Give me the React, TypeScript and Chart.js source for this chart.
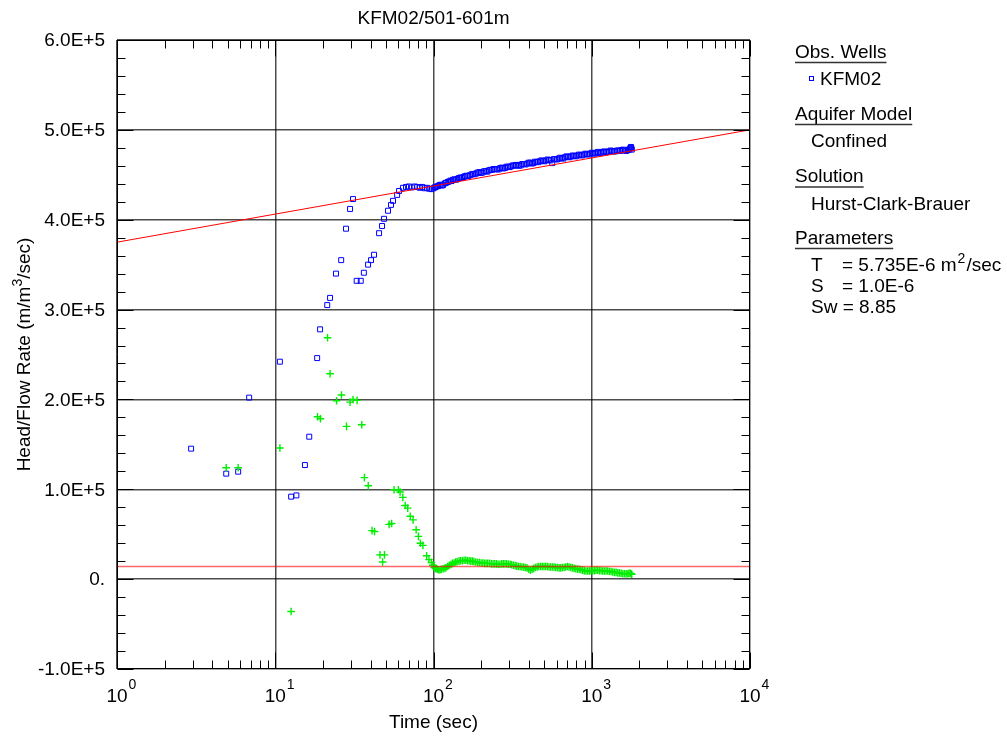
import React, { useEffect, useRef } from "react";
import { Chart, registerables } from "chart.js";

Chart.register(...registerables);

const FONT = '"Liberation Sans", Arial, Helvetica, sans-serif';

const TITLE = "KFM02/501-601m";
const X_TITLE = "Time (sec)";
const Y_TITLE_MAIN = "Head/Flow Rate (m/m";
const Y_TITLE_SUP = "3";
const Y_TITLE_TAIL = "/sec)";

const X_MIN = 1;
const X_MAX = 10000;
const Y_MIN = -100000;
const Y_MAX = 600000;

const xDecadeValues = [1, 10, 100, 1000, 10000];
const xDecadeExponents = ["0", "1", "2", "3", "4"];
const xMinorMultipliers = [2, 3, 4, 5, 6, 7, 8, 9];
const yTickValues = [600000, 500000, 400000, 300000, 200000, 100000, 0, -100000];
const yTickLabels = ["6.0E+5", "5.0E+5", "4.0E+5", "3.0E+5", "2.0E+5", "1.0E+5", "0.", "-1.0E+5"];
const yMinorStep = 20000;

// Observed: KFM02 (head / flow rate)
const kfmTimes = [
  2.94, 4.9, 5.83, 6.84, 10.7, 12.6, 13.6, 15.4, 16.4, 18.4,
  19.2, 21.3, 22.2, 24.2, 26.1, 28.0, 29.7, 31.0, 32.7, 34.7,
  36.3, 38.6, 40.3, 42.1, 45.3, 47.3, 48.7, 51.6, 53.9, 55.5,
  58.9, 60.6, 64.1, 67, 70, 73, 76, 79, 82, 85,
  88, 91, 94, 97,
  100, 102, 103, 105, 107, 109, 111, 113, 115, 118,
  120, 123, 125, 128, 130, 133, 136, 139, 142, 145,
  148, 151, 155, 158, 162, 166, 170, 174, 178, 182,
  186, 190, 195, 199, 204, 209, 214, 219, 224, 229,
  235, 240, 246, 252, 258, 264, 270, 276, 283, 289,
  296, 303, 310, 317, 325, 332, 340, 348, 356, 364,
  373, 382, 391, 400, 409, 418, 428, 438, 448, 458,
  469, 480, 491, 502, 514, 526, 538, 550, 563, 576,
  589, 603, 617, 631, 646, 661, 676, 692, 708, 724,
  741, 758, 776, 794, 812, 831, 850, 870, 890, 911,
  932, 954, 976, 999, 1022, 1046, 1070, 1095, 1120, 1146,
  1172, 1199, 1227, 1256, 1285, 1315, 1345, 1376, 1408, 1441,
  1474, 1508, 1543, 1579, 1615, 1652, 1690, 1720, 1740, 1760,
  1770, 1780, 1790,
];
const kfmValues = [
  145200, 117400, 119600, 202000, 242000, 91800, 93200, 127000, 158500, 246000,
  278000, 305000, 313000, 340000, 355000, 390000, 412000, 423000, 332000, 332000,
  341000, 350000, 355000, 361000, 385000, 393000, 401000, 410000, 416500, 421000,
  427600, 432000, 435500, 436500, 437000, 436000, 437000, 436500, 435500, 436500,
  435000, 435500, 434500, 434000,
  435000, 436000, 436500, 437000, 437500, 438500, 439000, 438000, 438500, 440500,
  441000, 442000, 442500, 443500, 443000, 444500, 445000, 444500, 445500, 446500,
  447000, 446500, 447500, 448500, 449000, 448500, 449500, 450500, 451000, 450500,
  451500, 452500, 453000, 452000, 452500, 454000, 454000, 453500, 455000, 455500,
  455500, 456500, 456500, 456000, 456000, 457500, 458000, 457000, 457500, 459000,
  459000, 458500, 459500, 460500, 460000, 461000, 461000, 460000, 460500, 462000,
  462000, 461500, 462500, 463500, 463500, 462500, 463000, 464500, 464500, 464000,
  465000, 466000, 465500, 465000, 466000, 467000, 466500, 466000, 463000, 467500,
  467500, 467000, 468000, 469000, 468500, 468000, 469500, 470500, 470000, 469500,
  470500, 471500, 471000, 470500, 471500, 472500, 472000, 471500, 472500, 473500,
  473000, 472500, 473500, 474500, 474000, 473500, 474500, 475500, 474000, 474500,
  475500, 476000, 475000, 475500, 476000, 477000, 476500, 476000, 476000, 477000,
  477000, 476500, 477500, 478000, 477000, 476500, 477500, 478000, 479000, 480000,
  481000, 479500, 478000,
];

// Derivative (green crosses)
const derivTimes = [
  4.9, 5.83, 10.7, 12.6, 18.5, 19.3, 21.4, 22.2, 24.4, 26.2,
  28.2, 29.7, 31.0, 32.9, 35.2, 36.6, 38.7, 40.9, 42.4, 45.9,
  47.7, 49.0, 52.4, 54.4, 56.3, 60, 61.5, 64, 66.2, 68.7,
  71.3, 74.3, 77.7, 80.3, 82.6, 85.7, 90.5, 93.6,
  97, 99, 101, 103, 104, 106, 108, 110, 112, 115,
  118, 120, 123, 126, 129, 132, 135, 138, 141, 145,
  148, 152, 156, 160, 164, 168, 172, 176, 180, 185,
  190, 195, 200, 205, 210, 215, 220, 226, 232, 238,
  244, 250, 256, 263, 270, 276, 283, 290, 297, 305,
  312, 320, 328, 336, 344, 353, 362, 371, 380, 390,
  400, 410, 420, 430, 441, 452, 463, 475, 487, 499,
  511, 524, 537, 550, 564, 578, 592, 607, 622, 637,
  653, 669, 685, 702, 719, 737, 755, 774, 793, 813,
  833, 854, 875, 897, 919, 942, 965, 989, 1013, 1038,
  1064, 1090, 1117, 1145, 1173, 1202, 1232, 1262, 1293, 1325,
  1358, 1391, 1425, 1461, 1497, 1534, 1572, 1611, 1651, 1691,
  1720, 1750, 1770, 1790,
];
const derivValues = [
  124000, 124000, 146000, -36000, 180700, 178500, 268600, 228600, 198500, 205000,
  170000, 197000, 200000, 199000, 171800, 113000, 104000, 54000, 53000, 27000,
  19000, 27000, 61000, 62000, 99500, 99500, 97000, 91000, 82000, 79000,
  70000, 66000, 55000, 47600, 40000, 37600, 26000, 21700,
  18700, 15500, 13000, 12000, 11500, 11000, 10500, 10500, 11000, 11500,
  12000, 13000, 14000, 15500, 16500, 17500, 18000, 19000, 19500, 20000,
  20500, 20500, 21000, 21000, 20500, 20500, 20000, 20000, 19500, 19000,
  18500, 18500, 18000, 18000, 17500, 17500, 17500, 17500, 17000, 17000,
  17000, 17000, 16500, 16500, 17000, 17000, 17000, 17000, 16500, 16500,
  16000, 15500, 15000, 14500, 14000, 14000, 13500, 13500, 13000, 12500,
  11000, 10000, 11000, 12000, 13000, 13500, 14000, 14000, 14000, 14000,
  14000, 14000, 13500, 13500, 13500, 13500, 13000, 13000, 12500, 12500,
  13000, 13000, 13500, 14000, 13500, 13000, 12500, 12000, 11500, 11000,
  11000, 10500, 10000, 9500, 9000, 9000, 9000, 9500, 9500, 9500,
  10000, 10000, 9500, 9500, 9000, 9000, 9000, 9000, 8500, 8500,
  8000, 7500, 7500, 7000, 7000, 6500, 6000, 6000, 6000, 6000,
  6500, 6500, 6000, 5500,
];

// Hurst-Clark-Brauer solution curves
const fitTimes = [1, 10000];
const fitValues = [375000, 500000];
const fitDerivTimes = [1, 10000];
const fitDerivValues = [14000, 14000];

const legendHeadings = ["Obs. Wells", "Aquifer Model", "Solution", "Parameters"];
const legendWell = "KFM02";
const legendModel = "Confined";
const legendSolution = "Hurst-Clark-Brauer";
const paramT = ["T", "= 5.735E-6 m", "2", "/sec"];
const paramS = ["S", "= 1.0E-6"];
const paramSw = "Sw = 8.85";

const toPts = (xs: number[], ys: number[]) => xs.map((x, i) => ({ x, y: ys[i] }));

const overlayPlugin = {
  id: "overlay",
  afterDraw(chart: any) {
    const { ctx, chartArea: a, scales } = chart;
    const xs = scales.x;
    const ys = scales.y;
    const L = Math.round(a.left) + 0.5;
    const R = Math.round(a.right) - 0.5;
    const T = Math.round(a.top) + 0.5;
    const B = Math.round(a.bottom) - 0.5;
    ctx.save();
    ctx.strokeStyle = "#000";
    ctx.lineWidth = 1;
    const line = (x1: number, y1: number, x2: number, y2: number) => {
      ctx.beginPath();
      ctx.moveTo(x1, y1);
      ctx.lineTo(x2, y2);
      ctx.stroke();
    };
    // frame
    line(L, T, R, T);
    line(R, T, R, B);
    line(R, B, L, B);
    line(L, B, L, T);
    // x minor ticks
    for (let d = 0; d < xDecadeValues.length - 1; d++) {
      for (const m of xMinorMultipliers) {
        const px = Math.round(xs.getPixelForValue(xDecadeValues[d] * m)) + 0.5;
        line(px, B, px, B - 8);
        line(px, T, px, T + 8);
      }
    }
    // x major ticks
    for (const v of xDecadeValues) {
      const px = Math.round(xs.getPixelForValue(v)) + 0.5;
      line(px, B, px, B - 16);
      line(px, T, px, T + 16);
    }
    // y ticks
    for (let i = 0; i < yTickValues.length; i++) {
      const v = yTickValues[i];
      const py = Math.round(ys.getPixelForValue(v)) + 0.5;
      line(L, py, L + 16, py);
      line(R, py, R - 16, py);
      if (i < yTickValues.length - 1) {
        for (let k = 1; k * yMinorStep < v - yTickValues[i + 1]; k++) {
          const pm = Math.round(ys.getPixelForValue(v - k * yMinorStep)) + 0.5;
          line(L, pm, L + 8, pm);
          line(R, pm, R - 8, pm);
        }
      }
    }
    // y labels
    ctx.fillStyle = "#000";
    ctx.font = `19px ${FONT}`;
    ctx.textAlign = "right";
    ctx.textBaseline = "middle";
    for (let i = 0; i < yTickValues.length; i++) {
      ctx.fillText(yTickLabels[i], a.left - 12, ys.getPixelForValue(yTickValues[i]) + 1);
    }
    // x labels: 10^n
    ctx.textBaseline = "alphabetic";
    for (let i = 0; i < xDecadeValues.length; i++) {
      const px = xs.getPixelForValue(xDecadeValues[i]);
      ctx.font = `19px ${FONT}`;
      ctx.textAlign = "center";
      ctx.fillText("10", px, a.bottom + 33);
      const w = ctx.measureText("10").width;
      ctx.font = `14px ${FONT}`;
      ctx.textAlign = "left";
      ctx.fillText(xDecadeExponents[i], px + w / 2 + 1, a.bottom + 20);
    }
    // titles
    ctx.font = `19px ${FONT}`;
    ctx.textAlign = "center";
    const cx = (a.left + a.right) / 2;
    ctx.fillText(TITLE, cx, 24);
    ctx.fillText(X_TITLE, cx, 728);
    // y title rotated
    ctx.save();
    ctx.translate(30, (a.top + a.bottom) / 2);
    ctx.rotate(-Math.PI / 2);
    ctx.textAlign = "left";
    ctx.font = `19px ${FONT}`;
    const w1 = ctx.measureText(Y_TITLE_MAIN).width;
    const w3 = ctx.measureText(Y_TITLE_TAIL).width;
    ctx.font = `14px ${FONT}`;
    const w2 = ctx.measureText(Y_TITLE_SUP).width;
    const start = -(w1 + w2 + w3) / 2;
    ctx.font = `19px ${FONT}`;
    ctx.fillText(Y_TITLE_MAIN, start, 0);
    ctx.font = `14px ${FONT}`;
    ctx.fillText(Y_TITLE_SUP, start + w1, -8);
    ctx.font = `19px ${FONT}`;
    ctx.fillText(Y_TITLE_TAIL, start + w1 + w2, 0);
    ctx.restore();

    // legend
    ctx.textAlign = "left";
    ctx.font = `19px ${FONT}`;
    const headX = 795;
    const headBase = [57.5, 119.5, 182, 243.5];
    ctx.strokeStyle = "#333";
    ctx.lineWidth = 1.5;
    legendHeadings.forEach((h, i) => {
      ctx.fillText(h, headX, headBase[i]);
      const w = ctx.measureText(h).width;
      ctx.beginPath();
      ctx.moveTo(headX, headBase[i] + 5);
      ctx.lineTo(headX + w, headBase[i] + 5);
      ctx.stroke();
    });
    // KFM02 marker
    ctx.strokeStyle = "#0000ff";
    ctx.lineWidth = 1;
    ctx.strokeRect(809.5, 76.5, 4, 4);
    ctx.fillText(legendWell, 820, 85);
    ctx.fillText(legendModel, 811, 147);
    ctx.fillText(legendSolution, 811, 209.5);
    // parameters
    ctx.fillText(paramT[0], 811, 271);
    ctx.fillText(paramT[1], 842, 271);
    let px = 842 + ctx.measureText(paramT[1]).width + 1;
    ctx.font = `14px ${FONT}`;
    ctx.fillText(paramT[2], px, 263);
    px += ctx.measureText(paramT[2]).width + 1;
    ctx.font = `19px ${FONT}`;
    ctx.fillText(paramT[3], px, 271);
    ctx.fillText(paramS[0], 811, 292);
    ctx.fillText(paramS[1], 842, 292);
    ctx.fillText(paramSw, 811, 313);
    ctx.restore();
  },
};

const isDecade = (v: number) => {
  const l = Math.log10(v);
  return Math.abs(l - Math.round(l)) < 1e-9;
};

export default function App() {
  const canvasRef = useRef<HTMLCanvasElement | null>(null);

  useEffect(() => {
    document.body.style.margin = "0";
    const canvas = canvasRef.current;
    if (!canvas) return;
    const chart = new Chart(canvas, {
      type: "scatter",
      data: {
        datasets: [
          {
            label: "KFM02",
            data: toPts(kfmTimes, kfmValues),
            pointStyle: "rect",
            pointRadius: 3.5,
            pointBorderWidth: 1,
            borderColor: "#0000ff",
            backgroundColor: "rgba(0,0,0,0)",
            order: 3,
          },
          {
            label: "Derivative",
            data: toPts(derivTimes, derivValues),
            pointStyle: "cross",
            pointRadius: 3.8,
            pointBorderWidth: 1.4,
            borderColor: "#00ee00",
            backgroundColor: "#00ee00",
            order: 2,
          },
          {
            label: "Fit",
            data: toPts(fitTimes, fitValues),
            showLine: true,
            pointRadius: 0,
            borderColor: "#ff0000",
            borderWidth: 1,
            order: 1,
          },
          {
            label: "Fit derivative",
            data: toPts(fitDerivTimes, fitDerivValues),
            showLine: true,
            pointRadius: 0,
            borderColor: "rgba(255,0,0,0.6)",
            borderWidth: 1.5,
            order: 1,
          },
        ],
      },
      options: {
        responsive: false,
        animation: false,
        layout: { padding: { left: 117, right: 257, top: 40, bottom: 69 } },
        plugins: { legend: { display: false }, tooltip: { enabled: false }, title: { display: false } },
        scales: {
          x: {
            type: "logarithmic",
            min: X_MIN,
            max: X_MAX,
            ticks: { display: false },
            border: { display: false },
            grid: {
              drawTicks: false,
              color: (c: any) => (c.tick && isDecade(c.tick.value) ? "rgba(0,0,0,0.7)" : "rgba(0,0,0,0)"),
              lineWidth: 1.5,
            },
            afterFit: (s: any) => {
              s.height = 0;
            },
          },
          y: {
            type: "linear",
            min: Y_MIN,
            max: Y_MAX,
            ticks: { display: false, stepSize: 100000 },
            border: { display: false },
            grid: { drawTicks: false, color: "rgba(0,0,0,0.7)", lineWidth: 1.5 },
            afterFit: (s: any) => {
              s.width = 0;
            },
          },
        },
      },
      plugins: [overlayPlugin],
    });
    return () => chart.destroy();
  }, []);

  return (
    <div style={{ position: "absolute", left: 0, top: 0, width: 1007, height: 738, background: "#fff" }}>
      <canvas ref={canvasRef} width={1007} height={738} style={{ display: "block" }} />
    </div>
  );
}
